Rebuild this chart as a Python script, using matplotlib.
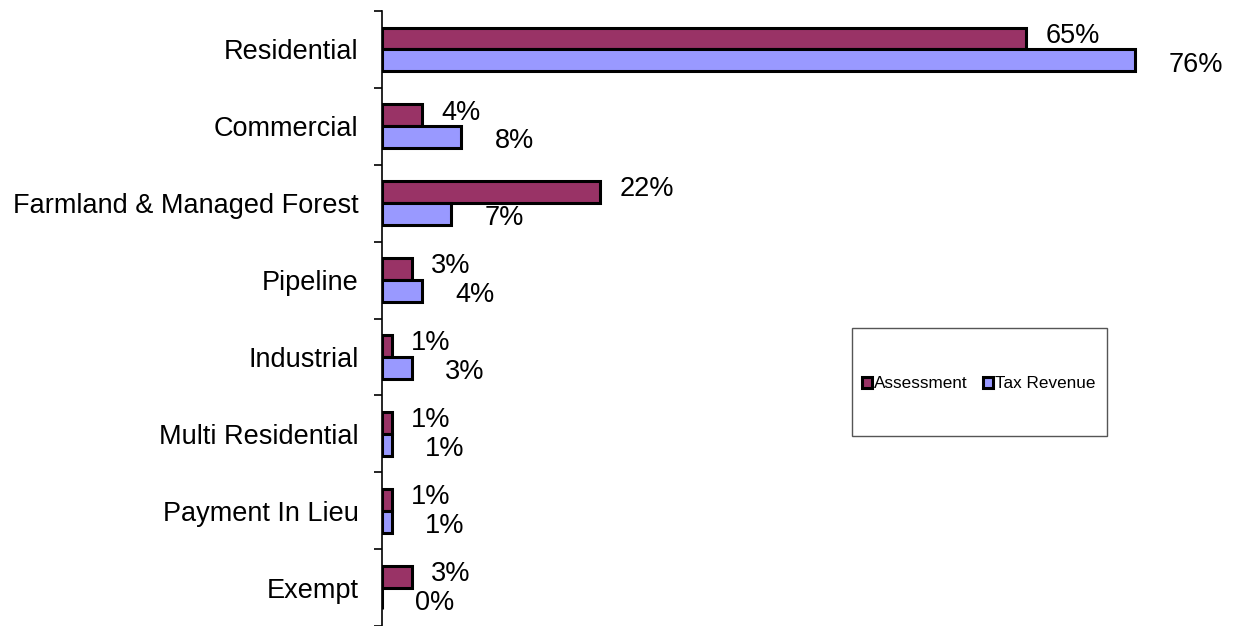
import matplotlib
matplotlib.use("Agg")
import matplotlib.pyplot as plt
import numpy as np
from matplotlib.patches import Rectangle, Patch

plt.rcParams['font.family'] = ['Liberation Sans', 'DejaVu Sans']

categories = ["Residential", "Commercial", "Farmland & Managed Forest", "Pipeline",
              "Industrial", "Multi Residential", "Payment In Lieu", "Exempt"]
assessment = [65, 4, 22, 3, 1, 1, 1, 3]
tax_revenue = [76, 8, 7, 4, 3, 1, 1, 0]
series_names = ["Assessment", "Tax Revenue"]

c_assess = "#993366"
c_tax = "#9999FF"

fig = plt.figure(figsize=(12.39, 6.26), dpi=100)
ax = fig.add_axes([382/1239, 0.0, (1175-382)/1239, 1 - 10/626 - 0.0016])

y = np.arange(len(categories))
h = 0.285
ax.barh(y - h/2, assessment, height=h, color=c_assess, edgecolor="black", linewidth=2.2)
ax.barh(y + h/2, tax_revenue, height=h, color=c_tax, edgecolor="black", linewidth=2.2)

for yi, v in zip(y, assessment):
    ax.annotate(f"{v}%", (v, yi - h/2), xytext=(14, 2), textcoords="offset points",
                ha="left", va="center", fontsize=19.5)
for yi, v in zip(y, tax_revenue):
    ax.annotate(f"{v}%", (v, yi + h/2), xytext=(24, -3), textcoords="offset points",
                ha="left", va="center", fontsize=19.5)

ax.set_xlim(0, 80)
ax.set_ylim(len(categories) - 0.5, -0.5)
ax.set_yticks(y)
ax.set_yticklabels(categories, fontsize=19.5)
ax.tick_params(axis="y", which="major", length=0, pad=17)
ax.set_yticks(np.arange(len(categories) + 1) - 0.5, minor=True)
ax.tick_params(axis="y", which="minor", length=6, width=1.2, direction="out")
ax.set_xticks([])
for s in ["top", "right", "bottom"]:
    ax.spines[s].set_visible(False)
ax.spines["left"].set_linewidth(1.2)
ax.set_facecolor("none")

# legend box
fig.patches.append(Rectangle((852/1239, 1 - 436/626), 255/1239, 108/626,
                             transform=fig.transFigure, facecolor="white",
                             edgecolor="#555555", linewidth=1.0, zorder=0))
handles = [Patch(facecolor=c_assess, edgecolor="black", linewidth=2.2),
           Patch(facecolor=c_tax, edgecolor="black", linewidth=2.2)]
fig.legend(handles, series_names, loc="center", bbox_to_anchor=(979/1239, 1 - 384/626),
           ncol=2, frameon=False, fontsize=12.3, handlelength=0.55, handleheight=0.55,
           handletextpad=0.15, columnspacing=0.9)

fig.savefig("out.png", dpi=100)
